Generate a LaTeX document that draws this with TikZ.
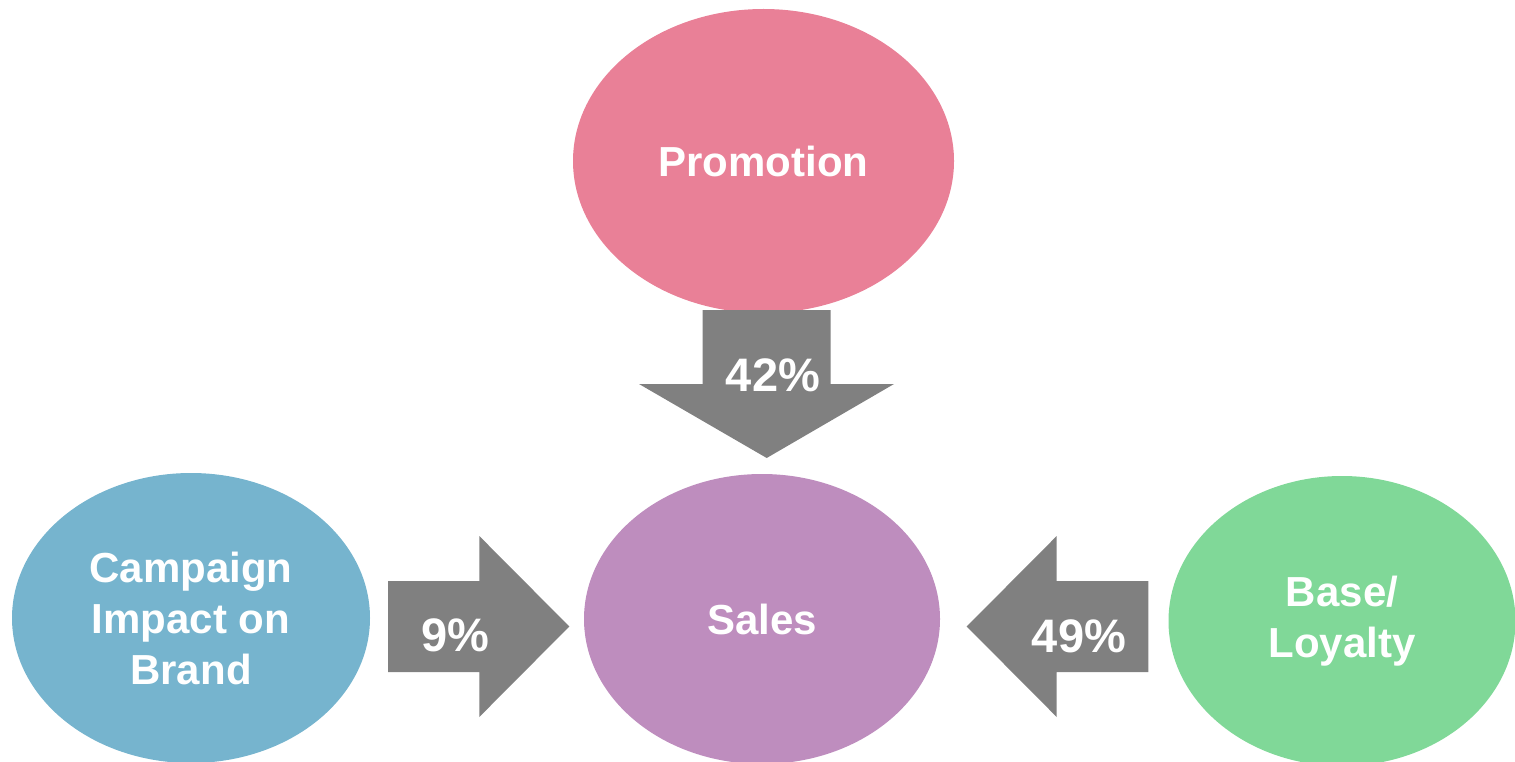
\documentclass[tikz,border=0pt]{standalone}
\usepackage{fontspec}
\setmainfont{Liberation Sans}
\usetikzlibrary{shapes.geometric}

\definecolor{promopink}{RGB}{233,128,151}
\definecolor{brandblue}{RGB}{118,180,206}
\definecolor{salespurple}{RGB}{190,141,190}
\definecolor{loyalgreen}{RGB}{128,216,152}
\definecolor{arrowgray}{RGB}{128,128,128}

\begin{document}
\begin{tikzpicture}[x=1pt, y=-1pt,
    bubble/.style={ellipse, inner sep=0pt, outer sep=0pt, text=white, align=center,
        font=\bfseries\fontsize{42}{51}\selectfont},
    block/.style={fill=arrowgray},
    share/.style={text=white, inner sep=0pt, anchor=base,
        font=\bfseries\fontsize{47}{56}\selectfont}]
    \useasboundingbox (0,0) rectangle (1515,762);

    % the four drivers
    \node [bubble, fill=promopink, minimum width=381pt, minimum height=304pt] (promo) at (763.5,161) {Promotion};
    \node [bubble, fill=brandblue, minimum width=358pt, minimum height=290pt] (brand) at (191,618) {Campaign\\Impact on\\Brand};
    \node [bubble, fill=salespurple, minimum width=356pt, minimum height=290pt] (sales) at (762,619) {Sales};
    \node [bubble, fill=loyalgreen, minimum width=347pt, minimum height=290pt] (loyal) at (1342,621) {Base/\\Loyalty};

    % block arrows into sales
    \fill [block] (702.7,310) -- (830.7,310) -- (830.7,384) -- (894,384) -- (766.7,458)
        -- (639,384) -- (702.7,384) -- cycle;
    \fill [block] (388,581) -- (479.3,581) -- (479.3,536) -- (569.3,626.5) -- (479.3,717)
        -- (479.3,672) -- (388,672) -- cycle;
    \fill [block] (1148.3,581) -- (1056.7,581) -- (1056.7,536) -- (966.7,626.5) -- (1056.7,717)
        -- (1056.7,672) -- (1148.3,672) -- cycle;

    \node [share] (p42) at (773,391) {42\%};
    \node [share] (p9) at (455.5,651) {9\%};
    \node [share] (p49) at (1079,652) {49\%};
\end{tikzpicture}
\end{document}
